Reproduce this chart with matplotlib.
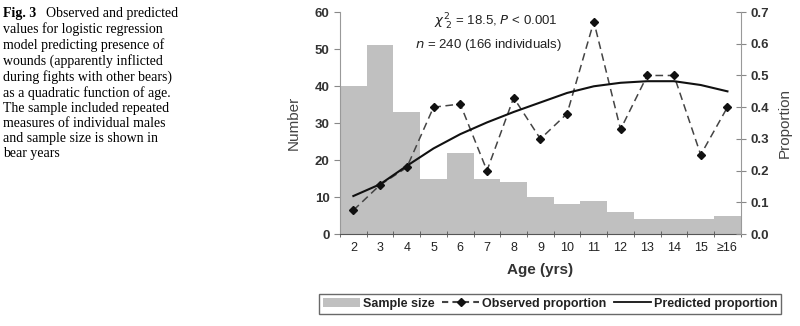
import numpy as np
import matplotlib.pyplot as plt
from matplotlib.patches import Patch
from matplotlib.lines import Line2D

# Data
ages = ['2', '3', '4', '5', '6', '7', '8', '9', '10', '11', '12', '13', '14', '15', '\u226516']
sample_size = [40, 51, 33, 15, 22, 15, 14, 10, 8, 9, 6, 4, 4, 4, 5]
observed = [0.075, 0.155, 0.21, 0.40, 0.41, 0.20, 0.43, 0.30, 0.38, 0.67, 0.33, 0.50, 0.50, 0.25, 0.40]
predicted = [0.12, 0.157, 0.215, 0.27, 0.315, 0.352, 0.385, 0.415, 0.445, 0.466, 0.477, 0.482, 0.482, 0.47, 0.45]

caption = ("values for logistic regression\n"
           "model predicting presence of\n"
           "wounds (apparently inflicted\n"
           "during fights with other bears)\n"
           "as a quadratic function of age.\n"
           "The sample included repeated\n"
           "measures of individual males\n"
           "and sample size is shown in\n"
           "bear years")

plt.rcParams['font.family'] = ['Liberation Sans', 'DejaVu Sans']
serif = ['Liberation Serif', 'DejaVu Serif']

fig = plt.figure(figsize=(8, 3.26), dpi=100)
ax = fig.add_axes([0.425, 0.282, 0.501, 0.681])
x = np.arange(len(ages))

ax.bar(x, sample_size, width=1.0, color='#c0c0c0', edgecolor='none', zorder=1)
ax.set_xlim(-0.5, len(ages) - 0.5)
ax.set_ylim(0, 60)
ax.set_yticks(range(0, 61, 10))
ax.set_xticks(x)
ax.set_xticklabels(ages)
ax.set_xticks(np.arange(-0.5, len(ages)), minor=True)
ax.tick_params(axis='x', which='major', length=0, labelsize=9, pad=6, colors='#222222')
ax.tick_params(axis='x', which='minor', length=4, direction='inout', color='#555555')
ax.tick_params(axis='y', length=4, direction='out', labelsize=9.5, color='#888888')
for lbl in ax.get_yticklabels():
    lbl.set_fontweight('bold')
    lbl.set_color('#333333')
ax.set_ylabel('Number', fontsize=11, color='#444444', labelpad=10)
ax.set_xlabel('Age (yrs)', fontsize=11, fontweight='bold', color='#333333', labelpad=6)
ax.spines['top'].set_visible(False)
ax.spines['right'].set_visible(False)
ax.spines['left'].set_color('#999999')
ax.spines['bottom'].set_color('#555555')

ax2 = ax.twinx()
ax2.plot(x, observed, linestyle=(0, (5, 3)), color='#444444', lw=1.1,
         marker='D', markersize=4, markerfacecolor='#111111', markeredgecolor='#111111', zorder=3)
ax2.plot(x, predicted, color='#111111', lw=1.5, zorder=4)
ax2.set_ylim(0, 0.7)
ax2.set_yticks(np.arange(0, 0.71, 0.1))
ax2.set_yticklabels(['%.1f' % v for v in np.arange(0, 0.71, 0.1)])
ax2.tick_params(axis='y', length=7, direction='inout', labelsize=9.5, color='#888888')
for lbl in ax2.get_yticklabels():
    lbl.set_fontweight('bold')
    lbl.set_color('#333333')
ax2.set_ylabel('Proportion', fontsize=11, color='#444444', labelpad=6)
ax2.spines['top'].set_visible(False)
ax2.spines['left'].set_visible(False)
ax2.spines['bottom'].set_visible(False)
ax2.spines['right'].set_color('#999999')

ax.text(0.39, 0.955, r'$\chi^2_{\ 2}$ = 18.5, $P$ < 0.001', transform=ax.transAxes,
        ha='center', va='center', fontsize=9.5, color='#222222')
ax.text(0.37, 0.85, r'$n$ = 240 (166 individuals)', transform=ax.transAxes,
        ha='center', va='center', fontsize=9.5, color='#222222')

handles = [Patch(facecolor='#c0c0c0', edgecolor='none'),
           Line2D([], [], linestyle=(0, (3, 2)), color='#444444', marker='D',
                  markersize=4, markerfacecolor='#111111', markeredgecolor='#111111'),
           Line2D([], [], color='#111111', lw=1.3)]
leg = fig.legend(handles, ['Sample size', 'Observed proportion', 'Predicted proportion'],
                 loc='center', bbox_to_anchor=(0.6875, 0.068), ncol=3, frameon=True,
                 fancybox=False, edgecolor='#444444', fontsize=9, handlelength=3.0,
                 columnspacing=0.6, handletextpad=0.2, borderpad=0.3, borderaxespad=0)
for t in leg.get_texts():
    t.set_fontweight('bold')
    t.set_color('#222222')
leg.get_frame().set_linewidth(1.0)

fig.text(0.004, 0.98, 'Fig. 3', fontsize=10, fontweight='bold', va='top', family=serif)
fig.text(0.058, 0.98, 'Observed and predicted', fontsize=10, va='top', family=serif)
fig.text(0.004, 0.932, caption, fontsize=10, va='top', linespacing=1.2, family=serif)

fig.savefig('out.png', dpi=100)
